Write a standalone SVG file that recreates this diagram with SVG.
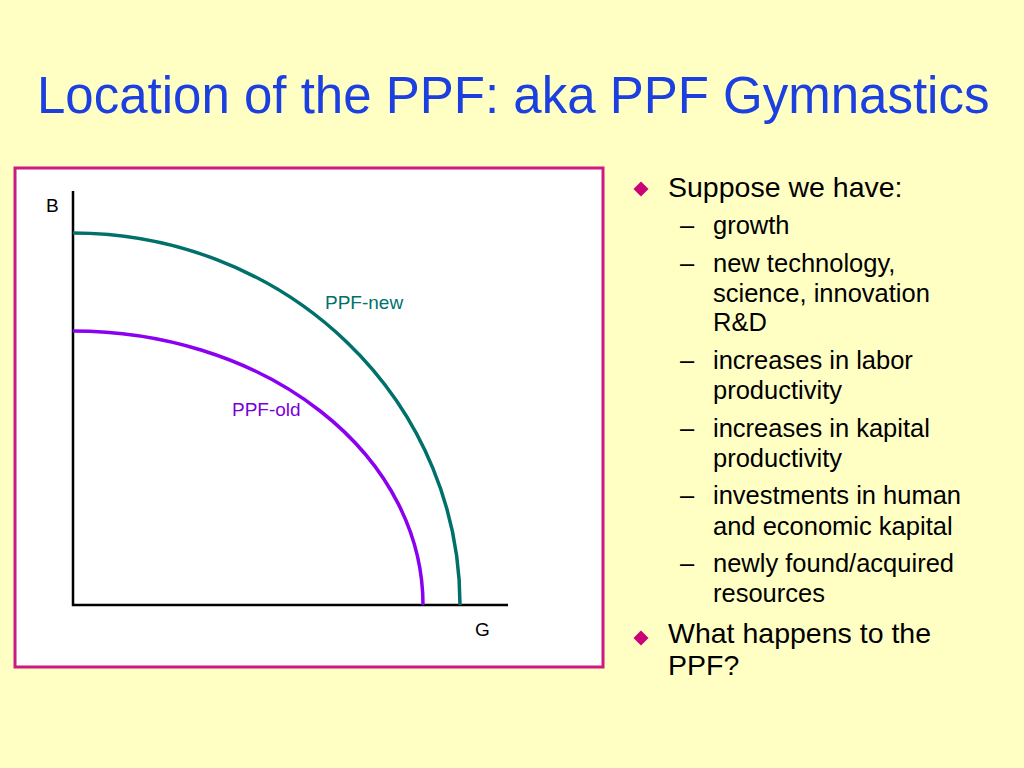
<svg xmlns="http://www.w3.org/2000/svg" width="1024" height="768" viewBox="0 0 1024 768">
<style>
text{font-family:"Liberation Sans",Arial,sans-serif}
.t1{font-size:28.5px;fill:#000}
.t2{font-size:25.5px;fill:#000}
.ax{stroke:#000;stroke-width:2.5;fill:none}
.lbl{font-size:19px}
.dia{fill:#CC0077}
</style>
<rect width="1024" height="768" fill="#FFFFC4"/>
<text x="37" y="113" font-size="51" fill="#1C3FE0">Location of the PPF: aka PPF Gymnastics</text>
<g id="chart">
<rect x="15" y="168" width="588" height="499" fill="#fff" stroke="#CC1A80" stroke-width="3"/>
<g id="connectors">
<path class="ax" d="M73 191 V605 H508"/>
<path id="ppf-new" d="M73 233 A387 372 0 0 1 460 605" fill="none" stroke="#00706A" stroke-width="3.5"/>
<path id="ppf-old" d="M73 331 A350 274 0 0 1 423 605" fill="none" stroke="#8A00F0" stroke-width="3.5"/>
</g>
<text x="46" y="212" class="lbl" fill="#000">B</text>
<text x="475" y="636" class="lbl" fill="#000">G</text>
<text x="325" y="309" class="lbl" fill="#00706A">PPF-new</text>
<text x="232" y="416" class="lbl" fill="#7A00D8">PPF-old</text>
</g>
<g id="bullets">
<path class="dia" d="M641 181.5 l7.5 7.5 l-7.5 7.5 l-7.5 -7.5z"/>
<text x="668" y="197" class="t1">Suppose we have:</text>
<text x="680" y="234" class="t2">–</text><text x="713" y="234" class="t2">growth</text>
<text x="680" y="272" class="t2">–</text><text x="713" y="272" class="t2">new technology,</text>
<text x="713" y="302" class="t2">science, innovation</text>
<text x="713" y="331" class="t2">R&amp;D</text>
<text x="680" y="369" class="t2">–</text><text x="713" y="369" class="t2">increases in labor</text>
<text x="713" y="399" class="t2">productivity</text>
<text x="680" y="437" class="t2">–</text><text x="713" y="437" class="t2">increases in kapital</text>
<text x="713" y="467" class="t2">productivity</text>
<text x="680" y="504" class="t2">–</text><text x="713" y="504" class="t2">investments in human</text>
<text x="713" y="535" class="t2">and economic kapital</text>
<text x="680" y="572" class="t2">–</text><text x="713" y="572" class="t2">newly found/acquired</text>
<text x="713" y="602" class="t2">resources</text>
<path class="dia" d="M641 630.5 l7.5 7.5 l-7.5 7.5 l-7.5 -7.5z"/>
<text x="668" y="643" class="t1">What happens to the</text>
<text x="668" y="675" class="t1">PPF?</text>
</g>
</svg>
